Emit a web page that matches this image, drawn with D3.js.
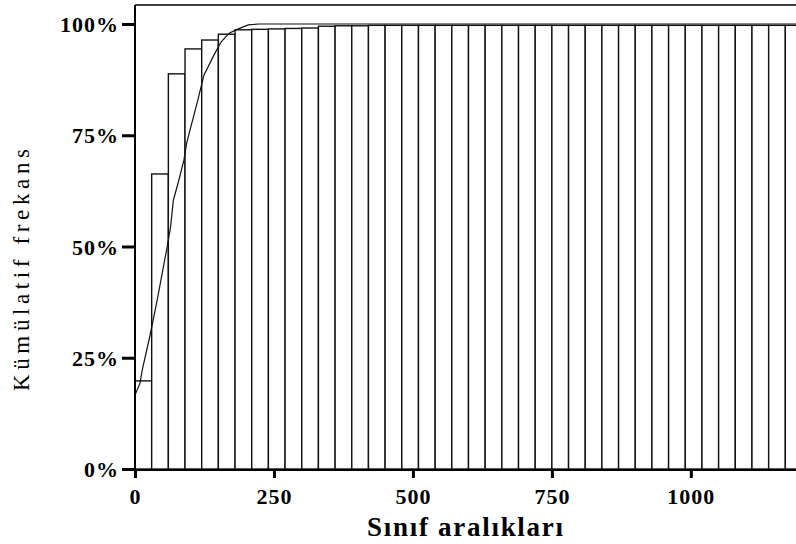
<!DOCTYPE html>
<html>
<head>
<meta charset="utf-8">
<script src="https://cdn.jsdelivr.net/npm/d3@7"></script>
<style>
  body { margin: 0; background: #fff; }
  text { font-family: "Liberation Serif", "DejaVu Serif", serif; fill: #000; }
</style>
</head>
<body>
<div id="chart"></div>
<script>
var svgWidth = 796;
var svgHeight = 544;

// Cumulative frequency (%) for each 30-wide class interval
var binWidth = 30;
var cumPercent = [19.8, 66.3, 88.8, 94.4, 96.4, 97.7, 98.7, 98.8, 98.9, 99.0,
  99.1, 99.5, 99.6, 99.6, 99.7, 99.7, 99.7, 99.7, 99.7, 99.7,
  99.7, 99.7, 99.7, 99.7, 99.7, 99.7, 99.7, 99.7, 99.7, 99.7,
  99.7, 99.7, 99.7, 99.7, 99.7, 99.7, 99.7, 99.7, 99.7, 99.7];

// Fitted cumulative curve (value, %)
var curveX = [0, 9, 13, 27, 40, 49, 58, 64, 69, 78, 88, 93, 113, 124, 142, 155, 170, 186, 204, 223, 400, 800, 1210];
var curveY = [16.6, 19.3, 22.2, 30, 38, 44, 50, 54.4, 60.4, 64.5, 69.4, 73.3, 82.9, 88.5, 93, 96, 98, 98.9, 99.8, 100, 100, 100, 100];

var xTicks = [0, 250, 500, 750, 1000];
var yTicks = [0, 0.25, 0.5, 0.75, 1];

var plot = { left: 135, right: 802, top: 5, bottom: 470 };

var svg = d3.select("#chart")
  .append("svg")
  .attr("width", svgWidth)
  .attr("height", svgHeight);

var xScale = d3.scaleLinear()
  .domain([0, 1200])
  .range([plot.left, plot.right]);

var yScale = d3.scaleLinear()
  .domain([0, 1])
  .range([469, 24]);

var bins = cumPercent.map(function(v, i) {
  return { x0: i * binWidth, x1: (i + 1) * binWidth, value: v / 100 };
});

// Bars
svg.append("g")
  .selectAll("rect")
  .data(bins)
  .enter()
  .append("rect")
  .attr("x", d => xScale(d.x0))
  .attr("y", d => yScale(d.value))
  .attr("width", d => xScale(d.x1) - xScale(d.x0))
  .attr("height", d => yScale(0) - yScale(d.value))
  .attr("fill", "#fff")
  .attr("stroke", "#111")
  .attr("stroke-width", 1.4);

// Cumulative curve
var curvePts = curveX.map((x, i) => [x, curveY[i] / 100]);
var line = d3.line()
  .x(d => xScale(d[0]))
  .y(d => yScale(d[1]));

svg.append("path")
  .datum(curvePts)
  .attr("d", line)
  .attr("fill", "none")
  .attr("stroke", "#111")
  .attr("stroke-width", 1.2);

// Frame: top border
svg.append("line")
  .attr("x1", plot.left).attr("x2", svgWidth)
  .attr("y1", plot.top).attr("y2", plot.top)
  .attr("stroke", "#000")
  .attr("stroke-width", 1.5);

// Y axis
var leftAxis = d3.axisLeft(yScale)
  .tickValues(yTicks)
  .tickFormat(d3.format(".0%"))
  .tickSize(13)
  .tickPadding(3);

var yAxis = svg.append("g")
  .attr("transform", `translate(${plot.left}, 0)`)
  .call(leftAxis);

yAxis.select(".domain").remove();
yAxis.selectAll(".tick line").attr("stroke-width", 3);
yAxis.selectAll("text")
  .style("font-size", "22px")
  .style("font-weight", "bold")
  .style("letter-spacing", "1px")
  .attr("dy", "0.35em");

svg.append("line")
  .attr("x1", plot.left).attr("x2", plot.left)
  .attr("y1", plot.top).attr("y2", plot.bottom)
  .attr("stroke", "#000")
  .attr("stroke-width", 2);

// X axis
var bottomAxis = d3.axisBottom(xScale)
  .tickValues(xTicks)
  .tickFormat(d3.format("d"))
  .tickSize(8)
  .tickPadding(10);

var xAxis = svg.append("g")
  .attr("transform", `translate(0, ${plot.bottom})`)
  .call(bottomAxis);

xAxis.select(".domain").remove();
xAxis.selectAll(".tick line").attr("stroke-width", 3);
xAxis.selectAll("text")
  .style("font-size", "22px")
  .style("font-weight", "bold")
  .style("letter-spacing", "1px");

svg.append("line")
  .attr("x1", plot.left).attr("x2", svgWidth)
  .attr("y1", plot.bottom).attr("y2", plot.bottom)
  .attr("stroke", "#000")
  .attr("stroke-width", 2);

// Axis titles
svg.append("text")
  .attr("transform", "translate(29, 270) rotate(-90)")
  .attr("text-anchor", "middle")
  .attr("textLength", 242)
  .attr("lengthAdjust", "spacing")
  .style("font-size", "23px")
  .text("Kümülatif frekans");

svg.append("text")
  .attr("x", 465)
  .attr("y", 536)
  .attr("text-anchor", "middle")
  .attr("textLength", 196)
  .attr("lengthAdjust", "spacing")
  .style("font-size", "27px")
  .style("font-weight", "bold")
  .text("Sınıf aralıkları");
</script>
</body>
</html>
